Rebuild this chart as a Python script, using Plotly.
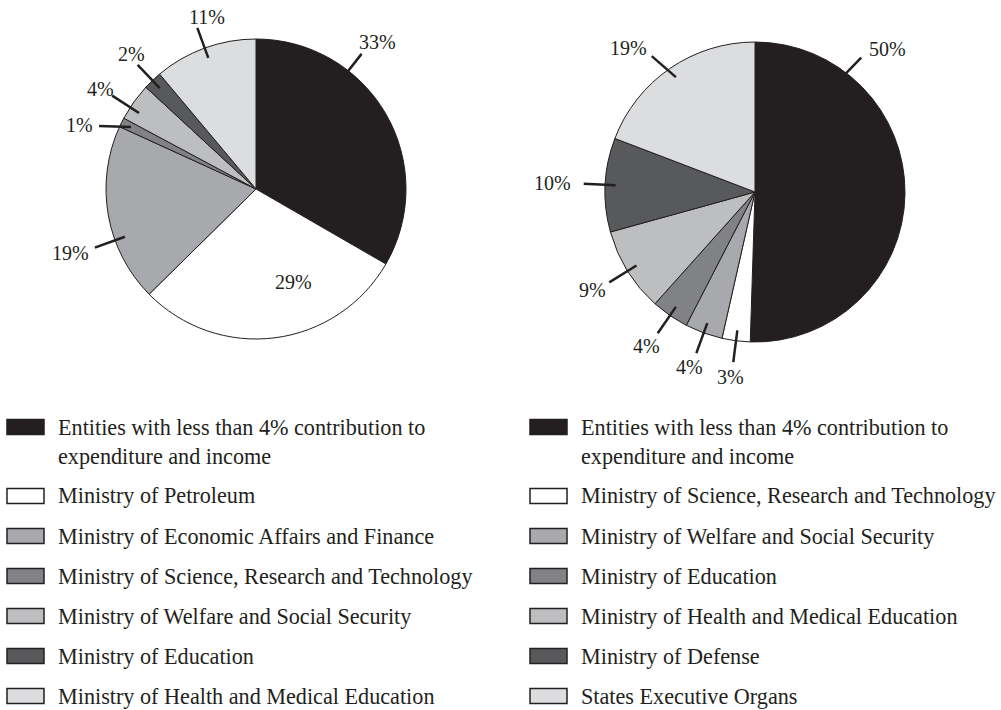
import math
import textwrap
import plotly.graph_objects as go

# ---------------- data ----------------
left_categories = [
    "Entities with less than 4% contribution to expenditure and income",
    "Ministry of Petroleum",
    "Ministry of Economic Affairs and Finance",
    "Ministry of Science, Research and Technology",
    "Ministry of Welfare and Social Security",
    "Ministry of Education",
    "Ministry of Health and Medical Education",
]
left_values = [33, 29, 19, 1, 4, 2, 11]

right_categories = [
    "Entities with less than 4% contribution to expenditure and income",
    "Ministry of Science, Research and Technology",
    "Ministry of Welfare and Social Security",
    "Ministry of Education",
    "Ministry of Health and Medical Education",
    "Ministry of Defense",
    "States Executive Organs",
]
right_values = [50, 3, 4, 4, 9, 10, 19]

slice_colors = ["#231f20", "#ffffff", "#a7a9ac", "#808285", "#bcbec0", "#58595b", "#dcdddf"]

# ---------------- layout / style ----------------
W, H = 1001, 710
INK = "#231f20"
FONT = "Liberation Serif"
FS_LABEL = 20
FS_LEGEND = 22.2
R = 150            # pie radius (px)
LEAD_IN = 0.93     # leader line start (fraction of radius)
LEAD_LEN = 32      # leader line length (px)

pies = [
    dict(cats=left_categories, vals=left_values, cx=256, cy=189,
         angle_override={0: 38, 2: 250, 4: 303}, dir_override={3: 272},
         text_shift={6: (18, 3), 5: (8, 0), 4: (5, 2)},
         inside={1: (158, 0.67)}, legend_x=7),
    dict(cats=right_categories, vals=right_values, cx=755, cy=192,
         angle_override={0: 37}, dir_override={0: 44, 6: 311},
         text_shift={0: (9, 2), 5: (-6, 0), 6: (-4, 2)},
         inside={}, legend_x=530),
]

LEG_Y0 = 427       # centre of first legend row (px)
LEG_STEP = 40
LEG_LINE = 29
SW_W, SW_H = 37, 15
SW_GAP = 11.5


def px(x, y):
    return x / W, 1 - y / H


fig = go.Figure()
shapes = []
annotations = []

for p in pies:
    cx, cy = p["cx"], p["cy"]
    x0, y1 = px(cx - R, cy - R)
    x1, y0 = px(cx + R, cy + R)
    fig.add_trace(go.Pie(
        labels=p["cats"], values=p["vals"], sort=False, direction="clockwise",
        rotation=0, textinfo="none", showlegend=False,
        marker=dict(colors=slice_colors, line=dict(color=INK, width=1)),
        domain=dict(x=[x0, x1], y=[y0, y1]),
        hovertemplate="%{label}: %{value}%<extra></extra>",
    ))

    total = sum(p["vals"])
    cum = 0
    for i, v in enumerate(p["vals"]):
        a0 = cum / total * 360
        cum += v
        a1 = cum / total * 360
        mid = (a0 + a1) / 2
        txt = f"{v}%"
        if i in p["inside"]:
            ang, rf = p["inside"][i]
            t = math.radians(ang)
            tx, ty = cx + rf * R * math.sin(t), cy - rf * R * math.cos(t)
        else:
            ang = p["angle_override"].get(i, mid)
            d = p["dir_override"].get(i, ang)
            t, td = math.radians(ang), math.radians(d)
            sx, sy = cx + LEAD_IN * R * math.sin(t), cy - LEAD_IN * R * math.cos(t)
            ex, ey = sx + LEAD_LEN * math.sin(td), sy - LEAD_LEN * math.cos(td)
            X0, Y0 = px(sx, sy)
            X1, Y1 = px(ex, ey)
            shapes.append(dict(type="line", xref="paper", yref="paper",
                               x0=X0, y0=Y0, x1=X1, y1=Y1,
                               line=dict(color=INK, width=2.5)))
            w2 = 5.5 * len(txt) + 9
            h2 = 15
            dx, dy = p["text_shift"].get(i, (0, 0))
            tx, ty = ex + w2 * math.sin(td) + dx, ey - h2 * math.cos(td) + dy
        X, Y = px(tx, ty)
        annotations.append(dict(x=X, y=Y, xref="paper", yref="paper", text=txt,
                                showarrow=False, xanchor="center", yanchor="middle",
                                font=dict(family=FONT, size=FS_LABEL, color=INK)))

    # legend
    yc = LEG_Y0
    lx = p["legend_x"]
    for i, cat in enumerate(p["cats"]):
        lines = textwrap.wrap(cat, 42) if len(cat) > 50 else [cat]
        sx0, sy0 = px(lx, yc + SW_H / 2)
        sx1, sy1 = px(lx + SW_W, yc - SW_H / 2)
        shapes.append(dict(type="rect", xref="paper", yref="paper",
                           x0=sx0, y0=sy0, x1=sx1, y1=sy1,
                           fillcolor=slice_colors[i], line=dict(color=INK, width=1.5)))
        for k, ln in enumerate(lines):
            X, Y = px(lx + SW_W + SW_GAP, yc + k * LEG_LINE)
            annotations.append(dict(x=X, y=Y, xref="paper", yref="paper", text=ln,
                                    showarrow=False, xanchor="left", yanchor="middle",
                                    font=dict(family=FONT, size=FS_LEGEND, color=INK)))
        yc += LEG_STEP + LEG_LINE * (len(lines) - 1)

fig.update_layout(
    width=W, height=H,
    margin=dict(l=0, r=0, t=0, b=0),
    paper_bgcolor="white", plot_bgcolor="white",
    shapes=shapes, annotations=annotations,
    font=dict(family=FONT, size=FS_LABEL, color=INK),
)

fig.write_html("out.html")
